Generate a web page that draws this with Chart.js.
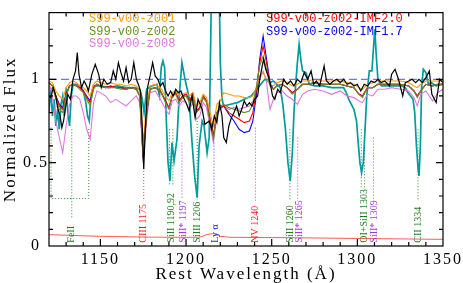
<!DOCTYPE html>
<html>
<head>
<meta charset="utf-8">
<script src="https://cdn.jsdelivr.net/npm/chart.js@4.4.1/dist/chart.umd.min.js"></script>
<style>
  html, body { margin: 0; padding: 0; background: #fff; }
</style>
</head>
<body>
<canvas id="spectre" width="463" height="283"></canvas>
<script>
// Spectre observé (noir)
const blackWave = [
  1120, 1121, 1122.5, 1124, 1125, 1126.5, 1127.5, 1128.5, 1129.5, 1131,
  1132.5, 1134, 1135.5, 1136.5, 1137.5, 1139, 1140.5, 1142, 1143, 1145,
  1147, 1149, 1150.5, 1152, 1154, 1156, 1157.5, 1159, 1160.5, 1162,
  1163.5, 1165, 1166.5, 1168, 1169.5, 1171, 1172.5, 1173.5, 1174.5, 1175.3,
  1176.2, 1177.5, 1179, 1180.5, 1182, 1183.5, 1185, 1186.5, 1188, 1189.5,
  1191, 1192.5, 1194, 1195.5, 1197, 1198.5, 1200, 1201.8, 1203.5, 1205.3,
  1207, 1209.4, 1211, 1213.5, 1215, 1216.5, 1218, 1219.5, 1221, 1222,
  1223.5, 1225, 1226.5, 1228, 1229.5, 1231, 1232.5, 1234, 1235.5, 1237,
  1238.5, 1240, 1241.8, 1243, 1244.5, 1245.3, 1246.5, 1248, 1249.4, 1250.5,
  1251.8, 1253.5, 1255, 1257, 1259, 1261, 1263, 1265, 1267, 1269,
  1271, 1273, 1274.5, 1276, 1278, 1280.6, 1282, 1284, 1286, 1288,
  1290, 1292, 1294, 1296, 1298, 1300, 1302, 1304, 1306, 1308,
  1310, 1312, 1314, 1316, 1318.8, 1320, 1322, 1324, 1326.5, 1328,
  1330, 1332, 1334, 1336, 1338, 1340, 1342, 1343.5, 1346, 1348,
  1350
]
const blackFlux = [
  0.90, 0.89, 0.95, 0.90, 0.83, 0.78, 0.71, 0.75, 0.82, 0.91,
  0.88, 1.00, 1.05, 1.16, 1.03, 0.95, 0.99, 0.96, 0.93, 1.03,
  1.09, 1.03, 0.95, 1.00, 0.97, 0.98, 1.05, 1.00, 1.10, 1.04,
  0.99, 1.07, 0.98, 1.00, 1.10, 1.00, 0.96, 0.92, 0.70, 0.46,
  0.70, 0.95, 1.02, 1.10, 1.02, 1.00, 0.96, 0.98, 0.93, 0.90,
  0.93, 0.90, 0.94, 0.92, 0.93, 0.89, 0.86, 0.81, 0.90, 0.77,
  0.88, 0.82, 0.73, 0.75, 0.70, 0.78, 0.74, 0.86, 0.78, 0.65,
  0.62, 0.72, 0.77, 0.80, 0.84, 0.78, 0.82, 0.87, 0.84, 0.86,
  0.84, 0.88, 0.90, 1.00, 1.08, 1.12, 1.06, 1.02, 0.96, 0.90,
  0.88, 0.94, 0.92, 1.00, 0.97, 0.99, 0.96, 1.00, 0.98, 1.04,
  1.00, 1.05, 0.97, 0.99, 0.96, 1.08, 0.99, 0.97, 0.99, 1.00,
  0.98, 1.00, 0.97, 0.98, 0.96, 0.97, 0.93, 0.97, 0.96, 0.99,
  0.98, 1.00, 0.98, 0.99, 0.96, 1.03, 1.06, 1.00, 0.90, 0.98,
  0.99, 1.00, 0.98, 1.00, 0.98, 1.01, 1.05, 0.91, 0.86, 1.00,
  0.98
]

// Second spectre observé (bleu-vert)
const tealWave = [
  1120, 1121, 1122, 1123, 1124, 1125, 1126, 1127, 1128, 1129,
  1130, 1131, 1132, 1133, 1134, 1136, 1138, 1140, 1141.5, 1142.5,
  1143.5, 1144.5, 1146, 1150, 1155, 1160, 1165, 1170, 1173, 1174.5,
  1175.5, 1177, 1180, 1183, 1184.5, 1185.5, 1186.5, 1187.5, 1188.5, 1189.5,
  1190.6, 1191.8, 1193, 1194.7, 1196, 1197.6, 1199.4, 1201.8, 1203.5, 1205,
  1206.5, 1207.6, 1209.4, 1210.5, 1212.3, 1213.5, 1214.5, 1215.5, 1217.5, 1219,
  1220, 1221, 1222, 1226, 1230, 1234, 1238, 1242, 1246, 1249,
  1251, 1253, 1255, 1256.5, 1258, 1259.5, 1260.8, 1262, 1263, 1264,
  1265, 1266, 1267, 1268, 1270, 1272, 1275, 1280, 1285, 1290,
  1292, 1293.5, 1295, 1296.5, 1298, 1299.5, 1300.5, 1301.5, 1302.5, 1303.5,
  1304.5, 1305.5, 1307, 1308.5, 1309.5, 1310.2, 1311, 1312, 1314, 1318,
  1322, 1326, 1328, 1329.5, 1331, 1332.5, 1333.5, 1334.5, 1335.5, 1336,
  1336.8, 1337.5, 1338.5, 1340, 1341.5, 1343, 1346, 1350
]
const tealFlux = [
  0.80, 0.95, 0.78, 0.88, 0.72, 0.82, 0.70, 0.85, 0.90, 0.78,
  0.95, 0.80, 0.72, 0.90, 0.97, 0.97, 0.96, 0.93, 0.86, 0.78,
  0.75, 0.90, 0.96, 0.96, 0.95, 0.96, 0.95, 0.95, 0.94, 0.88,
  0.80, 0.94, 0.96, 0.97, 0.90, 1.07, 1.11, 1.07, 0.75, 0.50,
  0.39, 0.62, 0.51, 0.64, 0.90, 1.10, 1.00, 0.89, 0.62, 0.42,
  0.29, 0.60, 0.75, 0.72, 0.56, 0.65, 1.30, 2.00, 2.20, 1.80,
  1.10, 0.88, 0.84, 0.85, 0.86, 0.88, 0.90, 0.95, 1.00, 0.98,
  0.99, 0.97, 0.95, 0.85, 0.70, 0.50, 0.39, 0.55, 0.80, 0.97,
  1.10, 1.21, 1.12, 1.05, 1.04, 0.97, 0.96, 0.96, 0.95, 0.95,
  0.95, 0.92, 0.88, 0.85, 0.82, 0.75, 0.62, 0.50, 0.44, 0.50,
  0.70, 0.90, 1.05, 1.05, 1.20, 1.30, 1.15, 1.00, 0.96, 0.96,
  0.96, 0.96, 0.95, 0.92, 0.90, 0.88, 0.80, 0.60, 0.46, 0.42,
  0.60, 0.95, 1.06, 1.04, 0.97, 0.98, 0.96, 0.97
]

// Modèles Starburst99 (grille commune)
const modelWave = [
  1120, 1122, 1124, 1126, 1128, 1130, 1132, 1134, 1136, 1138,
  1140, 1142, 1144, 1146, 1148, 1150, 1153, 1156, 1159, 1162,
  1165, 1168, 1171, 1173, 1175, 1177, 1179, 1182, 1185, 1188,
  1190, 1192, 1194, 1196, 1198, 1200, 1202, 1204, 1206, 1208,
  1210, 1212, 1214, 1216, 1218, 1220, 1222, 1225, 1228, 1231,
  1234, 1237, 1239, 1241, 1243, 1245, 1247, 1249, 1251, 1253,
  1256, 1259, 1262, 1265, 1268, 1271, 1275, 1280, 1285, 1290,
  1294, 1298, 1301, 1303, 1306, 1309, 1312, 1316, 1320, 1325,
  1330, 1333, 1335, 1337, 1340, 1344, 1347, 1350
]
const z001Flux = [
  0.99, 0.98, 0.93, 0.90, 0.88, 0.95, 0.98, 0.99, 0.98, 0.96,
  0.95, 0.93, 0.90, 0.97, 0.99, 0.98, 0.97, 0.98, 0.97, 0.97,
  0.96, 0.97, 0.96, 0.93, 0.62, 0.85, 0.96, 0.97, 0.95, 0.90,
  0.87, 0.92, 0.93, 0.90, 0.91, 0.92, 0.90, 0.92, 0.84, 0.86,
  0.91, 0.89, 0.80, 0.72, 0.85, 0.87, 0.92, 0.91, 0.90, 0.90,
  0.89, 0.89, 0.90, 0.95, 1.02, 1.04, 1.00, 0.97, 0.96, 0.98,
  0.99, 0.98, 0.96, 0.97, 0.99, 0.99, 1.00, 0.99, 0.99, 0.99,
  0.98, 0.97, 0.95, 0.94, 0.97, 0.98, 0.99, 0.99, 0.99, 0.99,
  0.98, 0.96, 0.95, 0.97, 0.99, 0.99, 0.99, 0.99
]
const z002Flux = [
  0.98, 0.96, 0.88, 0.82, 0.80, 0.90, 0.96, 0.97, 0.96, 0.94,
  0.92, 0.88, 0.84, 0.94, 0.97, 0.96, 0.95, 0.95, 0.95, 0.94,
  0.94, 0.95, 0.94, 0.90, 0.52, 0.80, 0.94, 0.95, 0.93, 0.86,
  0.82, 0.90, 0.91, 0.86, 0.89, 0.90, 0.86, 0.90, 0.80, 0.82,
  0.89, 0.86, 0.74, 0.64, 0.80, 0.84, 0.85, 0.83, 0.82, 0.81,
  0.80, 0.81, 0.85, 0.95, 1.08, 1.14, 1.06, 0.96, 0.94, 0.96,
  0.97, 0.95, 0.91, 0.94, 0.97, 0.97, 0.98, 0.97, 0.97, 0.97,
  0.96, 0.95, 0.91, 0.89, 0.95, 0.95, 0.97, 0.97, 0.97, 0.97,
  0.96, 0.93, 0.89, 0.93, 0.97, 0.96, 0.97, 0.97
]
const z008Flux = [
  0.97, 0.90, 0.75, 0.65, 0.56, 0.72, 0.85, 0.90, 0.90, 0.88,
  0.80, 0.70, 0.64, 0.86, 0.93, 0.92, 0.90, 0.86, 0.88, 0.86,
  0.84, 0.87, 0.90, 0.86, 0.50, 0.75, 0.92, 0.93, 0.88, 0.82,
  0.79, 0.87, 0.88, 0.84, 0.87, 0.86, 0.82, 0.86, 0.76, 0.78,
  0.86, 0.83, 0.72, 0.62, 0.78, 0.82, 0.84, 0.82, 0.83, 0.82,
  0.83, 0.84, 0.87, 0.93, 1.00, 1.05, 0.98, 0.82, 0.88, 0.92,
  0.93, 0.90, 0.88, 0.85, 0.91, 0.93, 0.94, 0.93, 0.91, 0.93,
  0.90, 0.89, 0.87, 0.86, 0.91, 0.90, 0.94, 0.94, 0.95, 0.94,
  0.93, 0.89, 0.84, 0.91, 0.93, 0.87, 0.92, 0.94
]
const imf20Flux = [
  0.98, 0.96, 0.90, 0.84, 0.82, 0.91, 0.96, 0.97, 0.96, 0.95,
  0.93, 0.89, 0.86, 0.95, 0.97, 0.96, 0.95, 0.96, 0.95, 0.95,
  0.94, 0.95, 0.94, 0.90, 0.53, 0.80, 0.94, 0.95, 0.93, 0.87,
  0.83, 0.90, 0.92, 0.87, 0.90, 0.91, 0.87, 0.91, 0.81, 0.83,
  0.90, 0.87, 0.76, 0.66, 0.80, 0.83, 0.84, 0.80, 0.78, 0.76,
  0.74, 0.75, 0.80, 0.93, 1.10, 1.20, 1.10, 0.97, 0.94, 0.96,
  0.97, 0.95, 0.92, 0.94, 0.97, 0.97, 0.98, 0.97, 0.97, 0.97,
  0.96, 0.95, 0.91, 0.90, 0.95, 0.95, 0.97, 0.97, 0.97, 0.97,
  0.96, 0.93, 0.90, 0.93, 0.97, 0.96, 0.97, 0.97
]
const imf17Flux = [
  0.98, 0.96, 0.90, 0.85, 0.83, 0.91, 0.96, 0.97, 0.96, 0.95,
  0.93, 0.90, 0.87, 0.95, 0.97, 0.96, 0.95, 0.96, 0.95, 0.95,
  0.94, 0.95, 0.94, 0.90, 0.52, 0.80, 0.94, 0.95, 0.93, 0.87,
  0.83, 0.90, 0.92, 0.87, 0.90, 0.91, 0.87, 0.91, 0.81, 0.83,
  0.90, 0.87, 0.76, 0.66, 0.80, 0.83, 0.84, 0.79, 0.75, 0.70,
  0.68, 0.69, 0.75, 0.90, 1.12, 1.26, 1.12, 0.98, 0.94, 0.96,
  0.97, 0.95, 0.92, 0.94, 0.97, 0.97, 0.98, 0.97, 0.97, 0.97,
  0.96, 0.95, 0.91, 0.90, 0.95, 0.95, 0.97, 0.97, 0.97, 0.97,
  0.96, 0.93, 0.90, 0.93, 0.97, 0.96, 0.97, 0.97
]

// Spectre d'erreur (rouge, en bas)
const errWave = [1120, 1150, 1180, 1200, 1208, 1212, 1216, 1220, 1226, 1260, 1300, 1330, 1350]
const errFlux = [0.068, 0.058, 0.053, 0.052, 0.053, 0.068, 0.075, 0.058, 0.052, 0.05, 0.045, 0.042, 0.04]

// Raies d'absorption identifiées
const lineLabels = ["FeII", "CIII 1175", "SiII 1190,92", "SiII* 1197", "SiIII 1206", "Ly α",
  "NV 1240", "SiII 1260", "SiII* 1265", "OI+SiII 1303", "SiII* 1309", "CII 1334"]
const lineWave = [1133.3, 1175.3, 1191.6, 1198.2, 1206.6, 1217, 1240.6, 1261, 1265.9, 1304, 1310, 1335.8]
const lineColours = ["#1f7a1f", "#ff1a1a", "#1f7a1f", "#a636d9", "#1f7a1f", "#1a1aff",
  "#ff1a1a", "#1f7a1f", "#a636d9", "#1f7a1f", "#a636d9", "#1f7a1f"]

// Tirets verticaux au-dessus des étiquettes
const markWave = [1133.3, 1175.3, 1190.3, 1192.3, 1197.6, 1206.5, 1216.3, 1240.5, 1260.6, 1265.2, 1302.3, 1304.2, 1309.4, 1335.4]
const markTop = [0.70, 0.45, 0.70, 0.70, 0.62, 0.75, 0.62, 0.71, 0.70, 0.65, 0.70, 0.70, 0.65, 0.70]
const markBottom = [0.16, 0.27, 0.37, 0.37, 0.28, 0.28, 0.28, 0.27, 0.27, 0.27, 0.35, 0.35, 0.28, 0.27]
const markColours = ["#2e8b2e", "#ff4040", "#2e8b2e", "#2e8b2e", "#b54de0", "#2e8b2e", "#4040ff",
  "#ff4040", "#2e8b2e", "#b54de0", "#2e8b2e", "#2e8b2e", "#b54de0", "#2e8b2e"]
// Cadre pointillé du FeII
const feBoxWave = [1121.2, 1121.2, 1143.2, 1143.2]
const feBoxFlux = [0.71, 0.285, 0.285, 0.71]

// Légende
const legendLeft = ["S99-v00-z001", "S99-v00-z002", "S99-v00-z008"]
const legendLeftColours = ["#ff9a00", "#6b8e23", "#dd77dd"]
const legendRight = ["S99-v00-z002-IMF2.0", "S99-v00-z002-IMF1.7"]
const legendRightColours = ["#ff0000", "#0000ff"]

function serie(wave, flux) {
    return wave.map((w, i) => ({x: w, y: flux[i]}))
}

function trace(wave, flux, colour, width) {
    return {data: serie(wave, flux), borderColor: colour, borderWidth: width, pointRadius: 0, tension: 0, fill: false}
}

// L'ordre compte : le premier jeu est dessiné au-dessus
const datasets = [
    trace(blackWave, blackFlux, "#000000", 1.2),
    {data: serie([1120, 1350], [1, 1]), borderColor: "rgba(100,100,255,0.9)", borderWidth: 1.2, borderDash: [8, 4], pointRadius: 0},
    trace(modelWave, z002Flux, "#6b8e23", 1.1),
    trace(modelWave, z001Flux, "#ff9a00", 1.1),
    trace(modelWave, imf20Flux, "#ff0000", 1.1),
    trace(modelWave, imf17Flux, "#0000ff", 1.1),
    trace(modelWave, z008Flux, "#dd77dd", 1.1),
    trace(tealWave, tealFlux, "#009c9c", 1.7),
    trace(errWave, errFlux, "#ff3030", 0.8),
    {data: serie(feBoxWave, feBoxFlux), borderColor: "#2e8b2e", borderWidth: 1, borderDash: [1, 2], pointRadius: 0},
]
for (let i = 0; i < markWave.length; i++) {
    datasets.push({
        data: serie([markWave[i], markWave[i]], [markTop[i], markBottom[i]]),
        borderColor: markColours[i], borderWidth: 1, borderDash: [1, 2], pointRadius: 0,
    })
}

// Cadre, graduations internes, étiquettes des raies et légende
const habillage = {
    id: "habillage",
    beforeDraw(chart) {
        chart.ctx.letterSpacing = "2px"
    },
    beforeDatasetsDraw(chart) {
        chart.ctx.letterSpacing = "0px"
    },
    afterDatasetsDraw(chart) {
        const {ctx, chartArea: a, scales: {x, y}} = chart
        ctx.save()
        ctx.strokeStyle = "#000"
        ctx.lineWidth = 1.2
        ctx.strokeRect(a.left, a.top, a.right - a.left, a.bottom - a.top)
        ctx.beginPath()
        for (let w = 1130; w < 1350; w += 10) {
            const px = x.getPixelForValue(w)
            const len = w % 50 === 0 ? 7 : 4
            ctx.moveTo(px, a.bottom); ctx.lineTo(px, a.bottom - len)
            ctx.moveTo(px, a.top); ctx.lineTo(px, a.top + len)
        }
        for (let k = 1; k < 14; k++) {
            const py = y.getPixelForValue(k / 10)
            const len = k % 5 === 0 ? 7 : 4
            ctx.moveTo(a.left, py); ctx.lineTo(a.left + len, py)
            ctx.moveTo(a.right, py); ctx.lineTo(a.right - len, py)
        }
        ctx.stroke()

        ctx.font = "10px 'Liberation Serif'"
        ctx.textAlign = "left"
        ctx.textBaseline = "middle"
        for (let i = 0; i < lineLabels.length; i++) {
            ctx.save()
            ctx.translate(x.getPixelForValue(lineWave[i]), y.getPixelForValue(0.02))
            ctx.rotate(-Math.PI / 2)
            ctx.fillStyle = lineColours[i]
            ctx.fillText(lineLabels[i], 0, 0)
            ctx.restore()
        }

        ctx.font = "12px 'Liberation Mono'"
        ctx.textBaseline = "middle"
        legendLeft.forEach((t, i) => {
            ctx.fillStyle = legendLeftColours[i]
            ctx.fillText(t, 89, 19 + i * 12.5)
        })
        legendRight.forEach((t, i) => {
            ctx.fillStyle = legendRightColours[i]
            ctx.fillText(t, 266, 19 + i * 12.5)
        })
        ctx.restore()
    },
}

const config = {
    type: "line",
    data: {datasets: datasets},
    options: {
        responsive: false,
        animation: false,
        devicePixelRatio: 1,
        layout: {padding: {top: 8, right: 20, left: 0, bottom: 0}},
        plugins: {legend: {display: false}, tooltip: {enabled: false}},
        scales: {
            x: {
                type: "linear",
                min: 1120,
                max: 1350,
                afterFit: scale => { scale.height = 37 },
                grid: {display: false, drawTicks: false},
                border: {display: false},
                ticks: {
                    stepSize: 50,
                    includeBounds: false,
                    padding: 4,
                    color: "#000",
                    font: {family: "'Liberation Serif'", size: 16},
                    callback: value => String(value),
                },
                title: {
                    display: true,
                    text: "Rest Wavelength (Å)",
                    color: "#000",
                    font: {family: "'Liberation Serif'", size: 17, lineHeight: 1},
                    padding: {top: 0, bottom: 0},
                },
            },
            y: {
                min: 0,
                max: 1.4,
                afterFit: scale => { scale.width = 49 },
                grid: {display: false, drawTicks: false},
                border: {display: false},
                ticks: {
                    stepSize: 0.5,
                    includeBounds: false,
                    padding: 3,
                    crossAlign: "center",
                    color: "#000",
                    font: {family: "'Liberation Serif'", size: 16},
                    callback: value => String(value),
                },
                title: {
                    display: true,
                    text: "Normalized Flux",
                    color: "#000",
                    font: {family: "'Liberation Serif'", size: 17, lineHeight: 1},
                    padding: {top: 2, bottom: 0},
                },
            },
        },
    },
    plugins: [habillage],
}

const graphiqueSpectre = new Chart(document.querySelector("#spectre"), config)
</script>
</body>
</html>
